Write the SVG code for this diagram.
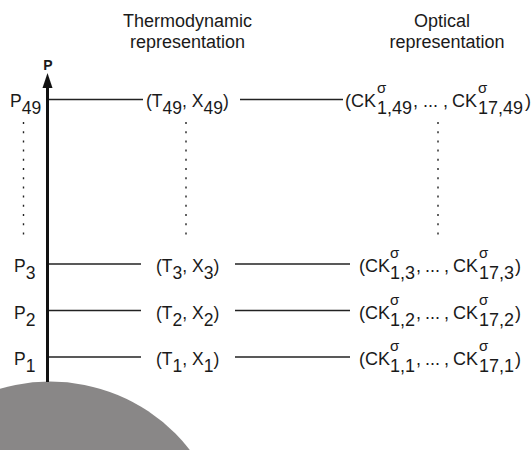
<svg xmlns="http://www.w3.org/2000/svg" width="532" height="450" viewBox="0 0 532 450">
<style>
text { font-family: "Liberation Sans", Arial, sans-serif; fill: #1a1a1a; }
.title { font-size: 18px; text-anchor: middle; }
.lbl { font-size: 17.5px; }
.opt { font-size: 18px; }
.sig { font-size: 15px; }
.conn { stroke: #222; stroke-width: 1.3; fill: none; }
.dot { stroke: #222; stroke-width: 1.4; stroke-dasharray: 2 7.2; fill: none; }
</style>
<rect width="532" height="450" fill="#ffffff"/>
<g id="planet"><circle cx="50" cy="558.5" r="177" fill="#898787"/></g>
<g id="headers">
<text class="title" x="187.5" y="27">Thermodynamic</text>
<text class="title" x="187.5" y="48">representation</text>
<text class="title" x="442" y="27">Optical</text>
<text class="title" x="447" y="48">representation</text>
</g>
<g id="axis">
<line x1="47.5" y1="86" x2="47.5" y2="382" stroke="#111" stroke-width="3"/>
<polygon points="47.5,73 42.5,88 52.5,88" fill="#111"/>
<text x="48" y="70" font-size="14" font-weight="bold" text-anchor="middle">P</text>
</g>
<g id="connectors">
<line class="conn" x1="49" y1="99.5" x2="143" y2="99.5"/>
<line class="conn" x1="240" y1="99.5" x2="343" y2="99.5"/>
<line class="conn" x1="49" y1="264" x2="141" y2="264"/>
<line class="conn" x1="235" y1="264" x2="350" y2="264"/>
<line class="conn" x1="49" y1="310.5" x2="141" y2="310.5"/>
<line class="conn" x1="235" y1="310.5" x2="350" y2="310.5"/>
<line class="conn" x1="49" y1="357" x2="141" y2="357"/>
<line class="conn" x1="235" y1="357" x2="350" y2="357"/>
<line class="dot" x1="23.5" y1="122" x2="23.5" y2="240"/>
<line class="dot" x1="186" y1="122" x2="186" y2="240"/>
<line class="dot" x1="438" y1="122" x2="438" y2="240"/>
</g>
<g id="level-P49">
<text class="lbl" x="10" y="107">P<tspan dy="7">49</tspan></text>
</g>
<g id="level-P3">
<text class="lbl" x="14" y="272">P<tspan dy="7">3</tspan></text>
</g>
<g id="level-P2">
<text class="lbl" x="14" y="318.5">P<tspan dy="7">2</tspan></text>
</g>
<g id="level-P1">
<text class="lbl" x="14" y="365">P<tspan dy="7">1</tspan></text>
</g>
<g id="thermo-49">
<text class="lbl" x="146" y="107">(T<tspan dy="7">49</tspan><tspan dy="-7">, X</tspan><tspan dy="7">49</tspan><tspan dy="-7">)</tspan></text>
</g>
<g id="thermo-3">
<text class="lbl" x="156" y="272">(T<tspan dy="7">3</tspan><tspan dy="-7">, X</tspan><tspan dy="7">3</tspan><tspan dy="-7">)</tspan></text>
</g>
<g id="thermo-2">
<text class="lbl" x="156" y="318.5">(T<tspan dy="7">2</tspan><tspan dy="-7">, X</tspan><tspan dy="7">2</tspan><tspan dy="-7">)</tspan></text>
</g>
<g id="thermo-1">
<text class="lbl" x="156" y="365">(T<tspan dy="7">1</tspan><tspan dy="-7">, X</tspan><tspan dy="7">1</tspan><tspan dy="-7">)</tspan></text>
</g>
<g id="optical-49">
<text class="opt" y="107"><tspan x="345">(CK</tspan><tspan x="377" dy="7">1,49</tspan><tspan x="413" dy="-7">,</tspan><tspan x="423">...</tspan><tspan x="443">,</tspan><tspan x="452">CK</tspan><tspan x="478" dy="7">17,49</tspan><tspan x="525" dy="-7">)</tspan></text>
<text class="sig" x="377" y="93">σ</text>
<text class="sig" x="478" y="93">σ</text>
</g>
<g id="optical-3">
<text class="opt" y="272"><tspan x="359">(CK</tspan><tspan x="390" dy="7">1,3</tspan><tspan x="416" dy="-7">,</tspan><tspan x="425">...</tspan><tspan x="444">,</tspan><tspan x="453">CK</tspan><tspan x="479" dy="7">17,3</tspan><tspan x="515" dy="-7">)</tspan></text>
<text class="sig" x="390" y="258">σ</text>
<text class="sig" x="479" y="258">σ</text>
</g>
<g id="optical-2">
<text class="opt" y="318.5"><tspan x="359">(CK</tspan><tspan x="390" dy="7">1,2</tspan><tspan x="416" dy="-7">,</tspan><tspan x="425">...</tspan><tspan x="444">,</tspan><tspan x="453">CK</tspan><tspan x="479" dy="7">17,2</tspan><tspan x="515" dy="-7">)</tspan></text>
<text class="sig" x="390" y="304.5">σ</text>
<text class="sig" x="479" y="304.5">σ</text>
</g>
<g id="optical-1">
<text class="opt" y="365"><tspan x="359">(CK</tspan><tspan x="390" dy="7">1,1</tspan><tspan x="416" dy="-7">,</tspan><tspan x="425">...</tspan><tspan x="444">,</tspan><tspan x="453">CK</tspan><tspan x="479" dy="7">17,1</tspan><tspan x="515" dy="-7">)</tspan></text>
<text class="sig" x="390" y="351">σ</text>
<text class="sig" x="479" y="351">σ</text>
</g>
</svg>
